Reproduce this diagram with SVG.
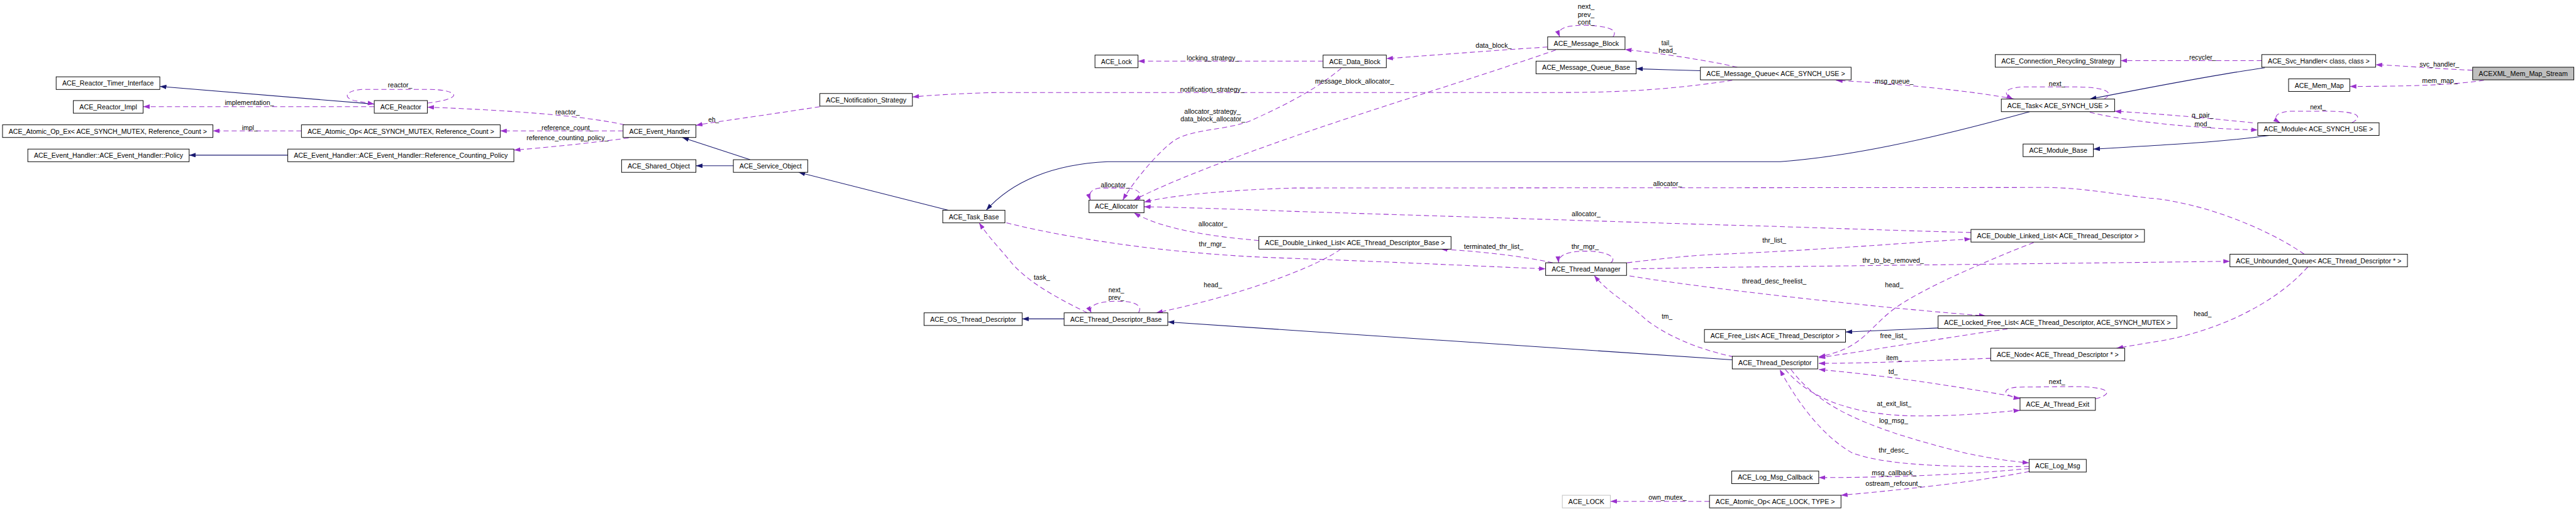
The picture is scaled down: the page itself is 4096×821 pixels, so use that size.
<svg xmlns="http://www.w3.org/2000/svg" width="4096" height="821" viewBox="0 0 4096 821">
<style>
.n rect{fill:#fff;stroke:#000;stroke-width:1.2}
.n text,.lbl text{font-family:"Liberation Sans",Arial,sans-serif;font-size:14px;fill:#000;text-anchor:middle}
.inh{fill:none;stroke:#191970;stroke-width:1.3;marker-end:url(#ab)}
.use{fill:none;stroke:#9a32cd;stroke-width:1.3;stroke-dasharray:10,6;marker-end:url(#ap)}
</style>
<defs>
<marker id="ab" viewBox="0 0 13 9" refX="13" refY="4.5" markerWidth="13" markerHeight="9" markerUnits="userSpaceOnUse" orient="auto"><path d="M0,0 L13,4.5 L0,9 z" fill="#191970"/></marker>
<marker id="ap" viewBox="0 0 13 9" refX="13" refY="4.5" markerWidth="13" markerHeight="9" markerUnits="userSpaceOnUse" orient="auto"><path d="M0,0 L13,4.5 L0,9 z" fill="#9a32cd"/></marker>
</defs>
<rect width="4096" height="821" fill="#fff"/>
<g transform="scale(0.8042,0.8041)">
<g id="connectors">
<path class="inh" d="M740,206 L316,171"/>
<path class="inh" d="M569,307 L374,307"/>
<path class="inh" d="M1483,316 L1349,272"/>
<path class="inh" d="M1450,328 L1376,328"/>
<path class="inh" d="M1875,416 L1579,341"/>
<path class="inh" d="M4013,221 C3800,280 3650,310 3520,320 L2190,320 C2080,325 2000,360 1950,416"/>
<path class="inh" d="M3362,140 L3298,138 L3235,136"/>
<path class="inh" d="M4478,134 C4400,145 4300,163 4132,196"/>
<path class="inh" d="M4487,268 C4400,280 4300,286 4139,295"/>
<path class="inh" d="M3425,712 L2309,637"/>
<path class="inh" d="M2104,631 L2021,631"/>
<path class="inh" d="M3832,649 L3649,657"/>

<path class="use" d="M740,211 L283,211"/>
<path class="use" d="M845,204 C880,200 905,192 895,185 C885,178 860,177 850,177 L715,177 C680,180 678,195 705,200 L740,206"/>
<path class="use" d="M596,259 L421,259"/>
<path class="use" d="M1235,247 C1150,228 1000,218 845,212"/>
<path class="use" d="M1232,259 L989,259"/>
<path class="use" d="M1243,273 C1150,285 1080,292 1016,297"/>
<path class="use" d="M1621,211 C1500,230 1420,240 1376,248"/>
<path class="use" d="M3425,159 C3350,170 3250,183 3090,183 L1970,183 C1900,185 1840,188 1804,192"/>
<path class="use" d="M2616,121 L2250,121"/>
<path class="use" d="M3060,93 C2950,100 2850,108 2741,116"/>
<path class="use" d="M3189,73 C3198,62 3190,52 3136,50 C3090,50 3078,58 3084,73"/>
<path class="use" d="M3435,133 C3380,120 3280,105 3213,98"/>
<path class="use" d="M3983,196 C3900,180 3750,165 3630,159"/>
<path class="use" d="M4160,196 C4180,185 4170,172 4100,172 L4000,172 C3960,174 3960,186 3980,196"/>
<path class="use" d="M4472,120 L4193,120"/>
<path class="use" d="M4889,139 C4800,135 4750,130 4697,128"/>
<path class="use" d="M4911,159 C4860,166 4800,171 4646,171"/>
<path class="use" d="M4454,243 C4380,235 4280,226 4181,220"/>
<path class="use" d="M4132,222 C4200,240 4350,255 4464,257"/>
<path class="use" d="M4650,243 C4675,230 4660,220 4600,220 L4530,220 C4495,222 4495,235 4508,243"/>
<path class="use" d="M2652,135 C2610,170 2560,200 2470,240 C2420,258 2360,255 2323,277 C2290,300 2240,360 2220,396"/>
<path class="use" d="M3076,99 C2900,160 2700,220 2550,273 C2400,325 2290,370 2242,396"/>
<path class="use" d="M2250,396 C2262,385 2250,372 2225,372 L2175,372 C2155,374 2152,385 2156,396"/>
<path class="use" d="M4556,503 C4480,450 4350,400 4250,392 C4180,384 4120,372 4050,371 L2560,372 C2450,375 2320,385 2262,400"/>
<path class="use" d="M3897,460 C3700,455 3500,447 3400,445 L2550,418 C2450,414 2320,410 2262,409"/>
<path class="use" d="M2489,476 C2400,468 2300,455 2242,421"/>
<path class="use" d="M1990,441 C2150,480 2350,505 2550,511 C2750,518 2950,528 3056,532"/>
<path class="use" d="M3185,520 C3198,510 3180,497 3136,497 C3095,497 3080,507 3082,520"/>
<path class="use" d="M3070,520 C3000,505 2920,497 2849,493"/>
<path class="use" d="M2251,619 C2260,605 2245,596 2210,596 C2170,596 2150,605 2158,619"/>
<path class="use" d="M2150,619 C2080,585 2030,555 2000,520 C1980,495 1955,470 1936,441"/>
<path class="use" d="M2651,493 C2600,530 2450,585 2286,619"/>
<path class="use" d="M3217,520 C3300,510 3350,505 3400,503 C3600,495 3800,478 3897,473"/>
<path class="use" d="M3229,532 L3400,529 L4250,519 L4409,517"/>
<path class="use" d="M3222,546 C3400,575 3750,612 3926,625"/>
<path class="use" d="M4021,480 C3930,515 3790,575 3740,615 C3690,655 3680,690 3596,706"/>
<path class="use" d="M3969,651 C3900,660 3750,685 3596,708"/>
<path class="use" d="M3936,709 C3850,712 3700,719 3596,719"/>
<path class="use" d="M4563,528 C4500,600 4380,660 4250,678 L4185,689"/>
<path class="use" d="M3994,787 C3900,770 3750,745 3596,731"/>
<path class="use" d="M3530,731 C3570,780 3650,825 3807,823 C3900,822 3950,815 3994,812"/>
<path class="use" d="M4143,789 C4180,780 4175,765 4100,765 L3990,766 C3955,768 3960,783 3994,789"/>
<path class="use" d="M3541,731 C3600,810 3700,850 3888,897 C3950,910 3990,914 4012,916"/>
<path class="use" d="M4012,923 C3850,925 3720,920 3660,895 C3600,860 3550,790 3519,731"/>
<path class="use" d="M4012,927 C3900,938 3750,945 3596,945"/>
<path class="use" d="M4012,933 C3900,955 3750,970 3640,980"/>
<path class="use" d="M3380,992 L3184,992"/>
<path class="use" d="M3428,706 C3350,690 3290,660 3255,633 C3220,600 3180,580 3152,545"/>
</g>
<g class="lbl" id="edge-labels">
<text x="791" y="173" textLength="48" lengthAdjust="spacingAndGlyphs">reactor_</text>
<text x="493" y="208" textLength="97" lengthAdjust="spacingAndGlyphs">implementation_</text>
<text x="494" y="257" textLength="31" lengthAdjust="spacingAndGlyphs">impl_</text>
<text x="1122" y="226" textLength="48" lengthAdjust="spacingAndGlyphs">reactor_</text>
<text x="1122" y="257" textLength="103" lengthAdjust="spacingAndGlyphs">reference_count_</text>
<text x="1122" y="277" textLength="162" lengthAdjust="spacingAndGlyphs">reference_counting_policy_</text>
<text x="1411" y="241" textLength="21" lengthAdjust="spacingAndGlyphs">eh_</text>
<text x="2397" y="181" textLength="127" lengthAdjust="spacingAndGlyphs">notification_strategy_</text>
<text x="2398" y="120" textLength="103" lengthAdjust="spacingAndGlyphs">locking_strategy_</text>
<text x="2397" y="225" textLength="111" lengthAdjust="spacingAndGlyphs">allocator_strategy_</text>
<text x="2398" y="240" textLength="128" lengthAdjust="spacingAndGlyphs">data_block_allocator_</text>
<text x="2205" y="370" textLength="57" lengthAdjust="spacingAndGlyphs">allocator_</text>
<text x="2398" y="448" textLength="57" lengthAdjust="spacingAndGlyphs">allocator_</text>
<text x="2397" y="488" textLength="53" lengthAdjust="spacingAndGlyphs">thr_mgr_</text>
<text x="2678" y="165" textLength="156" lengthAdjust="spacingAndGlyphs">message_block_allocator_</text>
<text x="2953" y="95" textLength="71" lengthAdjust="spacingAndGlyphs">data_block_</text>
<text x="3136" y="18" textLength="33" lengthAdjust="spacingAndGlyphs">next_</text>
<text x="3136" y="33" textLength="33" lengthAdjust="spacingAndGlyphs">prev_</text>
<text x="3136" y="48" textLength="33" lengthAdjust="spacingAndGlyphs">cont_</text>
<text x="3296" y="90" textLength="22" lengthAdjust="spacingAndGlyphs">tail_</text>
<text x="3297" y="104" textLength="35" lengthAdjust="spacingAndGlyphs">head_</text>
<text x="3297" y="368" textLength="57" lengthAdjust="spacingAndGlyphs">allocator_</text>
<text x="3136" y="428" textLength="57" lengthAdjust="spacingAndGlyphs">allocator_</text>
<text x="2953" y="492" textLength="117" lengthAdjust="spacingAndGlyphs">terminated_thr_list_</text>
<text x="3134" y="493" textLength="54" lengthAdjust="spacingAndGlyphs">thr_mgr_</text>
<text x="3745" y="165" textLength="76" lengthAdjust="spacingAndGlyphs">msg_queue_</text>
<text x="4067" y="170" textLength="32" lengthAdjust="spacingAndGlyphs">next_</text>
<text x="3508" y="480" textLength="47" lengthAdjust="spacingAndGlyphs">thr_list_</text>
<text x="3743" y="520" textLength="121" lengthAdjust="spacingAndGlyphs">thr_to_be_removed_</text>
<text x="4355" y="118" textLength="53" lengthAdjust="spacingAndGlyphs">recycler_</text>
<text x="4823" y="132" textLength="78" lengthAdjust="spacingAndGlyphs">svc_handler_</text>
<text x="4824" y="164" textLength="70" lengthAdjust="spacingAndGlyphs">mem_map_</text>
<text x="4583" y="217" textLength="31" lengthAdjust="spacingAndGlyphs">next_</text>
<text x="4355" y="233" textLength="43" lengthAdjust="spacingAndGlyphs">q_pair_</text>
<text x="4355" y="250" textLength="32" lengthAdjust="spacingAndGlyphs">mod_</text>
<text x="2060" y="553" textLength="32" lengthAdjust="spacingAndGlyphs">task_</text>
<text x="2207" y="578" textLength="31" lengthAdjust="spacingAndGlyphs">next_</text>
<text x="2207" y="593" textLength="31" lengthAdjust="spacingAndGlyphs">prev_</text>
<text x="2398" y="568" textLength="36" lengthAdjust="spacingAndGlyphs">head_</text>
<text x="3296" y="630" textLength="21" lengthAdjust="spacingAndGlyphs">tm_</text>
<text x="3297" y="989" textLength="75" lengthAdjust="spacingAndGlyphs">own_mutex_</text>
<text x="3508" y="561" textLength="127" lengthAdjust="spacingAndGlyphs">thread_desc_freelist_</text>
<text x="3745" y="568" textLength="36" lengthAdjust="spacingAndGlyphs">head_</text>
<text x="3744" y="669" textLength="53" lengthAdjust="spacingAndGlyphs">free_list_</text>
<text x="3745" y="713" textLength="31" lengthAdjust="spacingAndGlyphs">item_</text>
<text x="3743" y="740" textLength="18" lengthAdjust="spacingAndGlyphs">td_</text>
<text x="4067" y="760" textLength="32" lengthAdjust="spacingAndGlyphs">next_</text>
<text x="3745" y="803" textLength="68" lengthAdjust="spacingAndGlyphs">at_exit_list_</text>
<text x="3744" y="837" textLength="57" lengthAdjust="spacingAndGlyphs">log_msg_</text>
<text x="3744" y="895" textLength="59" lengthAdjust="spacingAndGlyphs">thr_desc_</text>
<text x="3745" y="940" textLength="88" lengthAdjust="spacingAndGlyphs">msg_callback_</text>
<text x="3744" y="961" textLength="111" lengthAdjust="spacingAndGlyphs">ostream_refcount_</text>
<text x="4355" y="625" textLength="35" lengthAdjust="spacingAndGlyphs">head_</text>
</g>
<g id="n1" class="n"><rect x="111" y="152" width="205" height="25"/><text x="213.5" y="169.5" textLength="181" lengthAdjust="spacingAndGlyphs">ACE_Reactor_Timer_Interface</text></g>
<g id="n2" class="n"><rect x="145" y="199" width="138" height="25"/><text x="214" y="216.5" textLength="114" lengthAdjust="spacingAndGlyphs">ACE_Reactor_Impl</text></g>
<g id="n3" class="n"><rect x="5" y="247" width="416" height="25"/><text x="213" y="264.5" textLength="392" lengthAdjust="spacingAndGlyphs">ACE_Atomic_Op_Ex&lt; ACE_SYNCH_MUTEX, Reference_Count &gt;</text></g>
<g id="n4" class="n"><rect x="55" y="295" width="319" height="25"/><text x="214.5" y="312.5" textLength="295" lengthAdjust="spacingAndGlyphs">ACE_Event_Handler::ACE_Event_Handler::Policy</text></g>
<g id="n5" class="n"><rect x="740" y="199" width="105" height="25"/><text x="792.5" y="216.5" textLength="81" lengthAdjust="spacingAndGlyphs">ACE_Reactor</text></g>
<g id="n6" class="n"><rect x="596" y="247" width="393" height="25"/><text x="792.5" y="264.5" textLength="369" lengthAdjust="spacingAndGlyphs">ACE_Atomic_Op&lt; ACE_SYNCH_MUTEX, Reference_Count &gt;</text></g>
<g id="n7" class="n"><rect x="569" y="295" width="447" height="25"/><text x="792.5" y="312.5" textLength="423" lengthAdjust="spacingAndGlyphs">ACE_Event_Handler::ACE_Event_Handler::Reference_Counting_Policy</text></g>
<g id="n8" class="n"><rect x="1232" y="247" width="144" height="25"/><text x="1304" y="264.5" textLength="120" lengthAdjust="spacingAndGlyphs">ACE_Event_Handler</text></g>
<g id="n9" class="n"><rect x="1229" y="316" width="147" height="25"/><text x="1302.5" y="333.5" textLength="123" lengthAdjust="spacingAndGlyphs">ACE_Shared_Object</text></g>
<g id="n10" class="n"><rect x="1450" y="316" width="147" height="25"/><text x="1523.5" y="333.5" textLength="123" lengthAdjust="spacingAndGlyphs">ACE_Service_Object</text></g>
<g id="n11" class="n"><rect x="1621" y="185" width="183" height="25"/><text x="1712.5" y="202.5" textLength="159" lengthAdjust="spacingAndGlyphs">ACE_Notification_Strategy</text></g>
<g id="n12" class="n"><rect x="2165" y="109" width="85" height="25"/><text x="2207.5" y="126.5" textLength="61" lengthAdjust="spacingAndGlyphs">ACE_Lock</text></g>
<g id="n13" class="n"><rect x="2153" y="396" width="109" height="25"/><text x="2207.5" y="413.5" textLength="85" lengthAdjust="spacingAndGlyphs">ACE_Allocator</text></g>
<g id="n14" class="n"><rect x="1864" y="416" width="123" height="25"/><text x="1925.5" y="433.5" textLength="99" lengthAdjust="spacingAndGlyphs">ACE_Task_Base</text></g>
<g id="n15" class="n"><rect x="2489" y="468" width="380" height="25"/><text x="2679" y="485.5" textLength="356" lengthAdjust="spacingAndGlyphs">ACE_Double_Linked_List&lt; ACE_Thread_Descriptor_Base &gt;</text></g>
<g id="n16" class="n"><rect x="2616" y="109" width="125" height="25"/><text x="2678.5" y="126.5" textLength="101" lengthAdjust="spacingAndGlyphs">ACE_Data_Block</text></g>
<g id="n17" class="n"><rect x="3060" y="73" width="153" height="25"/><text x="3136.5" y="90.5" textLength="129" lengthAdjust="spacingAndGlyphs">ACE_Message_Block</text></g>
<g id="n18" class="n"><rect x="3037" y="121" width="198" height="25"/><text x="3136" y="138.5" textLength="174" lengthAdjust="spacingAndGlyphs">ACE_Message_Queue_Base</text></g>
<g id="n19" class="n"><rect x="3362" y="133" width="298" height="25"/><text x="3511" y="150.5" textLength="274" lengthAdjust="spacingAndGlyphs">ACE_Message_Queue&lt; ACE_SYNCH_USE &gt;</text></g>
<g id="n20" class="n"><rect x="3945" y="108" width="248" height="25"/><text x="4069" y="125.5" textLength="224" lengthAdjust="spacingAndGlyphs">ACE_Connection_Recycling_Strategy</text></g>
<g id="n21" class="n"><rect x="3957" y="196" width="224" height="25"/><text x="4069" y="213.5" textLength="200" lengthAdjust="spacingAndGlyphs">ACE_Task&lt; ACE_SYNCH_USE &gt;</text></g>
<g id="n22" class="n"><rect x="4000" y="285" width="139" height="25"/><text x="4069.5" y="302.5" textLength="115" lengthAdjust="spacingAndGlyphs">ACE_Module_Base</text></g>
<g id="n23" class="n"><rect x="3897" y="454" width="343" height="25"/><text x="4068.5" y="471.5" textLength="319" lengthAdjust="spacingAndGlyphs">ACE_Double_Linked_List&lt; ACE_Thread_Descriptor &gt;</text></g>
<g id="n24" class="n"><rect x="4472" y="108" width="225" height="25"/><text x="4584.5" y="125.5" textLength="201" lengthAdjust="spacingAndGlyphs">ACE_Svc_Handler&lt; class, class &gt;</text></g>
<g id="n25" class="n"><rect x="4889" y="133" width="200" height="25" style="fill:#bfbfbf"/><text x="4989" y="150.5" textLength="176" lengthAdjust="spacingAndGlyphs">ACEXML_Mem_Map_Stream</text></g>
<g id="n26" class="n"><rect x="4525" y="156" width="121" height="25"/><text x="4585.5" y="173.5" textLength="97" lengthAdjust="spacingAndGlyphs">ACE_Mem_Map</text></g>
<g id="n27" class="n"><rect x="4464" y="243" width="240" height="25"/><text x="4584" y="260.5" textLength="216" lengthAdjust="spacingAndGlyphs">ACE_Module&lt; ACE_SYNCH_USE &gt;</text></g>
<g id="n28" class="n"><rect x="4409" y="503" width="351" height="25"/><text x="4584.5" y="520.5" textLength="327" lengthAdjust="spacingAndGlyphs">ACE_Unbounded_Queue&lt; ACE_Thread_Descriptor * &gt;</text></g>
<g id="n29" class="n"><rect x="1827" y="619" width="194" height="25"/><text x="1924" y="636.5" textLength="170" lengthAdjust="spacingAndGlyphs">ACE_OS_Thread_Descriptor</text></g>
<g id="n30" class="n"><rect x="2104" y="619" width="205" height="25"/><text x="2206.5" y="636.5" textLength="181" lengthAdjust="spacingAndGlyphs">ACE_Thread_Descriptor_Base</text></g>
<g id="n31" class="n"><rect x="3056" y="520" width="160" height="25"/><text x="3136" y="537.5" textLength="136" lengthAdjust="spacingAndGlyphs">ACE_Thread_Manager</text></g>
<g id="n32" class="n"><rect x="3089" y="980" width="95" height="25" style="stroke:#bfbfbf"/><text x="3136.5" y="997.5" textLength="71" lengthAdjust="spacingAndGlyphs">ACE_LOCK</text></g>
<g id="n33" class="n"><rect x="3370" y="652" width="279" height="25"/><text x="3509.5" y="669.5" textLength="255" lengthAdjust="spacingAndGlyphs">ACE_Free_List&lt; ACE_Thread_Descriptor &gt;</text></g>
<g id="n34" class="n"><rect x="3832" y="625" width="472" height="25"/><text x="4068" y="642.5" textLength="448" lengthAdjust="spacingAndGlyphs">ACE_Locked_Free_List&lt; ACE_Thread_Descriptor, ACE_SYNCH_MUTEX &gt;</text></g>
<g id="n35" class="n"><rect x="3425" y="705" width="169" height="25"/><text x="3509.5" y="722.5" textLength="145" lengthAdjust="spacingAndGlyphs">ACE_Thread_Descriptor</text></g>
<g id="n36" class="n"><rect x="3936" y="689" width="265" height="25"/><text x="4068.5" y="706.5" textLength="241" lengthAdjust="spacingAndGlyphs">ACE_Node&lt; ACE_Thread_Descriptor * &gt;</text></g>
<g id="n37" class="n"><rect x="3994" y="787" width="149" height="25"/><text x="4068.5" y="804.5" textLength="125" lengthAdjust="spacingAndGlyphs">ACE_At_Thread_Exit</text></g>
<g id="n38" class="n"><rect x="4012" y="909" width="113" height="25"/><text x="4068.5" y="926.5" textLength="89" lengthAdjust="spacingAndGlyphs">ACE_Log_Msg</text></g>
<g id="n39" class="n"><rect x="3424" y="932" width="172" height="25"/><text x="3510" y="949.5" textLength="148" lengthAdjust="spacingAndGlyphs">ACE_Log_Msg_Callback</text></g>
<g id="n40" class="n"><rect x="3380" y="980" width="260" height="25"/><text x="3510" y="997.5" textLength="236" lengthAdjust="spacingAndGlyphs">ACE_Atomic_Op&lt; ACE_LOCK, TYPE &gt;</text></g>
</g>
</svg>
